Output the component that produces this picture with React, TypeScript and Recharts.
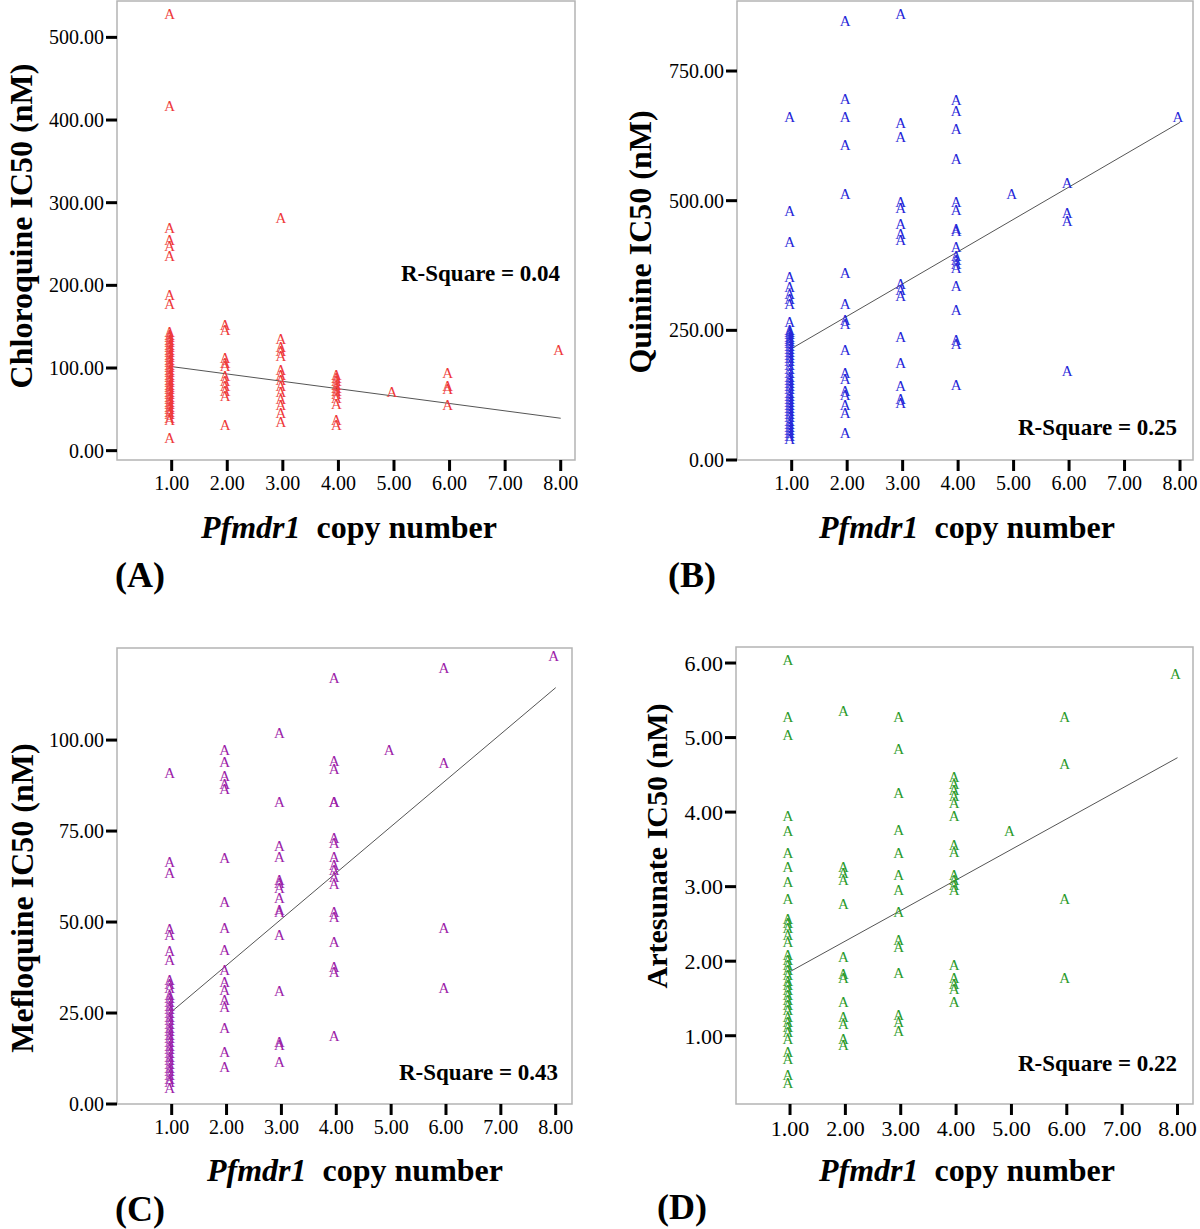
import React from 'react';
import { ScatterChart, Scatter, XAxis, YAxis, ReferenceLine, ReferenceArea } from 'recharts';

// Pfmdr1 copy numbers present in the data (columns of points)
const copyNumbers = [1, 2, 3, 4, 5, 6, 8];
const xTicks = [1, 2, 3, 4, 5, 6, 7, 8];

// IC50 values (nM) per copy number, same order as copyNumbers
const chloroquineIC50 = [
  [528, 417, 269, 255, 247, 236, 188, 178, 144, 140, 137, 134, 131, 128, 125, 122, 119, 116, 113, 110, 107, 104, 101,
    98, 95, 92, 89, 86, 83, 80, 77, 74, 71, 68, 65, 62, 59, 56, 53, 50, 47, 44, 40, 37, 15],
  [152, 146, 112, 106, 102, 90, 84, 78, 72, 66, 31],
  [281, 135, 126, 120, 114, 98, 92, 86, 78, 71, 63, 55, 45, 35],
  [92, 88, 84, 80, 76, 72, 68, 64, 57, 37, 31],
  [71],
  [94, 78, 74, 55],
  [122],
];
const quinineIC50 = [
  [662, 481, 420, 353, 333, 321, 311, 301, 266, 250, 246, 242, 238, 234, 230, 226, 220, 214, 208, 202, 196, 190, 184,
    176, 168, 160, 154, 148, 142, 136, 130, 124, 118, 112, 106, 100, 94, 88, 82, 76, 70, 64, 58, 52, 46, 40],
  [846, 697, 662, 607, 512, 361, 300, 269, 263, 212, 167, 157, 133, 125, 106, 91, 53],
  [859, 649, 623, 498, 486, 455, 436, 424, 340, 327, 317, 237, 187, 143, 117, 109],
  [694, 673, 638, 580, 497, 482, 446, 442, 410, 394, 386, 378, 371, 335, 289, 231, 224, 144],
  [512],
  [535, 476, 460, 171],
  [662],
];
const mefloquineIC50 = [
  [91, 66.5, 63.5, 48, 46.5, 42, 39.5, 34, 33, 32, 30, 29, 28, 27, 26, 25, 24, 23, 22, 21, 20, 19, 18, 17, 16, 15, 14,
    13, 12, 11, 10, 9, 8, 7, 6, 4.5],
  [97.3, 94, 90, 87.8, 86.5, 67.5, 55.6, 48.4, 42.3, 36.8, 33.6, 31.3, 28.6, 26.7, 20.8, 14.4, 10.3],
  [102, 83, 71, 68, 61.5, 60.6, 59.3, 56.5, 53.3, 52.7, 46.4, 31, 16.9, 16.2, 11.6],
  [117, 94.3, 92, 83.1, 83, 73, 71.6, 67.9, 65.7, 64.3, 62.4, 60.4, 52.8, 51.5, 44.6, 37.7, 36.3, 18.7],
  [97.3],
  [119.7, 93.6, 48.4, 32],
  [123.2],
];
const artesunateIC50 = [
  [6.04, 5.27, 5.04, 3.95, 3.74, 3.45, 3.27, 3.06, 2.84, 2.57, 2.51, 2.44, 2.35, 2.26, 2.08, 2.01, 1.95, 1.88, 1.81,
    1.74, 1.68, 1.61, 1.54, 1.48, 1.41, 1.34, 1.25, 1.19, 1.12, 1.05, 0.96, 0.78, 0.69, 0.47, 0.36],
  [5.35, 3.27, 3.18, 3.09, 2.77, 2.06, 1.83, 1.77, 1.45, 1.25, 1.16, 0.96, 0.87],
  [5.27, 4.85, 4.26, 3.76, 3.45, 3.16, 2.95, 2.66, 2.28, 2.19, 1.84, 1.28, 1.19, 1.07],
  [4.47, 4.38, 4.3, 4.21, 4.12, 3.95, 3.56, 3.47, 3.15, 3.09, 3.02, 2.95, 1.95, 1.77, 1.7, 1.63, 1.45],
  [3.74],
  [5.27, 4.65, 2.84, 1.77],
  [5.85],
];

// fitted regression line end points at copy number 1 and 8
const chloroquineFit = [101.7, 39.2];
const quinineFit = [215, 651];
const mefloquineFit = [25.4, 114.4];
const artesunateFit = [1.86, 4.73];

const serif = '"Liberation Serif", "Times New Roman", serif';

const toPoints = (groups: number[][]) =>
  groups.flatMap((vals, i) => vals.map((v) => ({ x: copyNumbers[i], y: v })));

const letter = (color: string) => (props: any) => (
  <text x={props.cx - 2} y={props.cy + 5} textAnchor="middle" fontFamily={serif} fontSize={15} fill={color}>
    A
  </text>
);

interface PanelProps {
  left: number;
  top: number;
  margin: { top: number; right: number; bottom: number; left: number };
  xDomain: [number, number];
  yDomain: [number, number];
  yTicks: number[];
  values: number[][];
  fit: number[];
  color: string;
  fontSize: number;
}

function Panel({ left, top, margin, xDomain, yDomain, yTicks, values, fit, color, fontSize }: PanelProps) {
  const tickStyle = { fill: '#000', fontSize, fontFamily: serif };
  return (
    <div style={{ position: 'absolute', left, top }}>
      <ScatterChart width={600} height={620} margin={margin}>
        <XAxis
          type="number"
          dataKey="x"
          domain={xDomain}
          ticks={xTicks}
          interval={0}
          allowDataOverflow
          axisLine={false}
          tickLine={{ stroke: '#000', strokeWidth: 3 }}
          tickSize={11}
          tickMargin={5}
          tick={tickStyle}
          tickFormatter={(v: number) => v.toFixed(2)}
          height={40}
        />
        <YAxis
          type="number"
          dataKey="y"
          domain={yDomain}
          ticks={yTicks}
          interval={0}
          allowDataOverflow
          axisLine={false}
          tickLine={{ stroke: '#000', strokeWidth: 3 }}
          tickSize={11}
          tickMargin={2}
          tick={tickStyle}
          tickFormatter={(v: number) => v.toFixed(2)}
          width={100}
        />
        <ReferenceArea
          x1={xDomain[0]}
          x2={xDomain[1]}
          y1={yDomain[0]}
          y2={yDomain[1]}
          fill="none"
          stroke="#b4b4b4"
          strokeWidth={1.5}
          ifOverflow="visible"
        />
        <ReferenceLine
          segment={[
            { x: 1, y: fit[0] },
            { x: 8, y: fit[1] },
          ]}
          stroke="#555"
          strokeWidth={1}
        />
        <Scatter data={toPoints(values)} shape={letter(color)} isAnimationActive={false} />
      </ScatterChart>
    </div>
  );
}

const bold: React.CSSProperties = {
  position: 'absolute',
  fontFamily: serif,
  fontWeight: 'bold',
  lineHeight: 1,
  whiteSpace: 'nowrap',
  color: '#000',
};

function YTitle({ x, y, text, size }: { x: number; y: number; text: string; size: number }) {
  return (
    <div style={{ ...bold, left: x, top: y, fontSize: size, transform: 'translate(-50%, -50%) rotate(-90deg)' }}>
      {text}
    </div>
  );
}

function XTitle({ x, y }: { x: number; y: number }) {
  return (
    <div style={{ ...bold, left: x, top: y, fontSize: 32, transform: 'translate(-50%, -50%)' }}>
      <i>Pfmdr1</i>&nbsp; copy number
    </div>
  );
}

function RSquare({ right, y, text }: { right: number; y: number; text: string }) {
  return (
    <div style={{ ...bold, left: right, top: y, fontSize: 23, transform: 'translate(-100%, -50%)' }}>{text}</div>
  );
}

function PanelTag({ x, y, text }: { x: number; y: number; text: string }) {
  return <div style={{ ...bold, left: x, top: y, fontSize: 36, transform: 'translateY(-50%)' }}>{text}</div>;
}

export default function App() {
  return (
    <div style={{ position: 'absolute', left: 0, top: 0, width: 1200, height: 1229, background: '#fff', overflow: 'hidden' }}>
      <Panel
        left={0}
        top={0}
        margin={{ top: 1, right: 25, bottom: 120, left: 17 }}
        xDomain={[0.016, 8.257]}
        yDomain={[-11.3, 544]}
        yTicks={[0, 100, 200, 300, 400, 500]}
        values={chloroquineIC50}
        fit={chloroquineFit}
        color="#ee3a3a"
        fontSize={20}
      />
      <Panel
        left={600}
        top={0}
        margin={{ top: 1, right: 7, bottom: 120, left: 37 }}
        xDomain={[0.014, 8.234]}
        yDomain={[0, 885]}
        yTicks={[0, 250, 500, 750]}
        values={quinineIC50}
        fit={quinineFit}
        color="#2626d8"
        fontSize={20}
      />
      <Panel
        left={0}
        top={640}
        margin={{ top: 8, right: 28, bottom: 116, left: 17 }}
        xDomain={[0.003, 8.297]}
        yDomain={[0, 125.3]}
        yTicks={[0, 25, 50, 75, 100]}
        values={mefloquineIC50}
        fit={mefloquineFit}
        color="#9c22a8"
        fontSize={20}
      />
      <Panel
        left={600}
        top={640}
        margin={{ top: 7, right: 7, bottom: 116, left: 36 }}
        xDomain={[0.024, 8.28]}
        yDomain={[0.084, 6.215]}
        yTicks={[1, 2, 3, 4, 5, 6]}
        values={artesunateIC50}
        fit={artesunateFit}
        color="#2a9a2a"
        fontSize={22}
      />

      <YTitle x={21} y={226} text="Chloroquine IC50 (nM)" size={32} />
      <YTitle x={640} y={242} text="Quinine IC50 (nM)" size={32} />
      <YTitle x={22} y={898} text="Mefloquine IC50 (nM)" size={32} />
      <YTitle x={657} y={846} text="Artesunate IC50 (nM)" size={30} />

      <XTitle x={349} y={527} />
      <XTitle x={967} y={527} />
      <XTitle x={355} y={1170} />
      <XTitle x={967} y={1170} />

      <RSquare right={560} y={273} text="R-Square = 0.04" />
      <RSquare right={1177} y={427} text="R-Square = 0.25" />
      <RSquare right={558} y={1072} text="R-Square = 0.43" />
      <RSquare right={1177} y={1063} text="R-Square = 0.22" />

      <PanelTag x={115} y={575} text="(A)" />
      <PanelTag x={668} y={575} text="(B)" />
      <PanelTag x={115} y={1209} text="(C)" />
      <PanelTag x={657} y={1207} text="(D)" />
    </div>
  );
}
